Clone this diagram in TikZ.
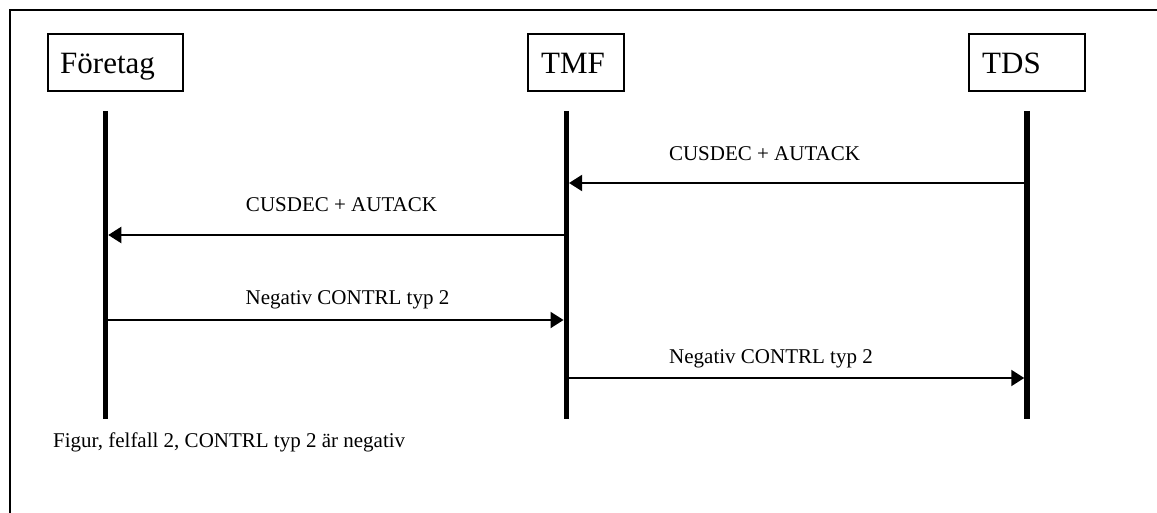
\documentclass[tikz,border=0pt]{standalone}
\usepackage{fontspec}
\setmainfont{Liberation Serif}
\usetikzlibrary{arrows.meta}
\begin{document}
\begin{tikzpicture}[x=1pt,y=-1pt,
  actorbox/.style={draw,line width=2pt,inner sep=0pt,minimum height=57pt},
  actortext/.style={anchor=base west,inner sep=0pt,font=\fontsize{31}{36}\selectfont},
  lifeline/.style={line width=5.5pt},
  msg/.style={line width=2pt,-{Triangle[length=13pt,width=16pt]},shorten >=2.75pt},
  msglabel/.style={anchor=base,inner sep=0pt,font=\fontsize{21}{25}\selectfont},
  frameline/.style={line width=2.5pt}]
\useasboundingbox (0,0) rectangle (1157,513);
% frame (only top and left visible)
\coordinate (fbl) at (10,513);
\coordinate (ftl) at (10,10);
\coordinate (ftr) at (1157,10);
\draw[frameline] (fbl) -- (ftl) -- (ftr);
% actor boxes
\node[actorbox,minimum width=134.5pt] (Fbox) at (115.25,62.5) {};
\node[actorbox,minimum width=96.5pt] (Mbox) at (575.75,62.5) {};
\node[actorbox,minimum width=116pt] (Tbox) at (1027,62.5) {};
\node[actortext] (Ftxt) at (60,74) {Företag};
\node[actortext] (Mtxt) at (541,74) {TMF};
\node[actortext] (Ttxt) at (982,74) {TDS};
% lifelines
\coordinate (Ftop) at (105.5,111);
\coordinate (Fbot) at (105.5,419);
\coordinate (Mtop) at (566.3,111);
\coordinate (Mbot) at (566.3,419);
\coordinate (Ttop) at (1027,111);
\coordinate (Tbot) at (1027,419);
\draw[lifeline] (Ftop) -- (Fbot);
\draw[lifeline] (Mtop) -- (Mbot);
\draw[lifeline] (Ttop) -- (Tbot);
% message anchor points
\coordinate (T1) at (1027,183);
\coordinate (M1) at (566.3,183);
\coordinate (M2) at (566.3,235);
\coordinate (F2) at (105.5,235);
\coordinate (F3) at (105.5,320);
\coordinate (M3) at (566.3,320);
\coordinate (M4) at (566.3,378);
\coordinate (T4) at (1027,378);
\draw[msg] (T1) -- (M1);
\draw[msg] (M2) -- (F2);
\draw[msg] (F3) -- (M3);
\draw[msg] (M4) -- (T4);
\node[msglabel] (L1) at (764.5,161) {CUSDEC + AUTACK};
\node[msglabel] (L2) at (341.5,212) {CUSDEC + AUTACK};
\node[msglabel] (L3) at (347.5,305) {Negativ CONTRL typ 2};
\node[msglabel] (L4) at (771,363) {Negativ CONTRL typ 2};
% caption
\node[msglabel,anchor=base west] (cap) at (53,447) {Figur, felfall 2, CONTRL typ 2 är negativ};
\end{tikzpicture}
\end{document}
